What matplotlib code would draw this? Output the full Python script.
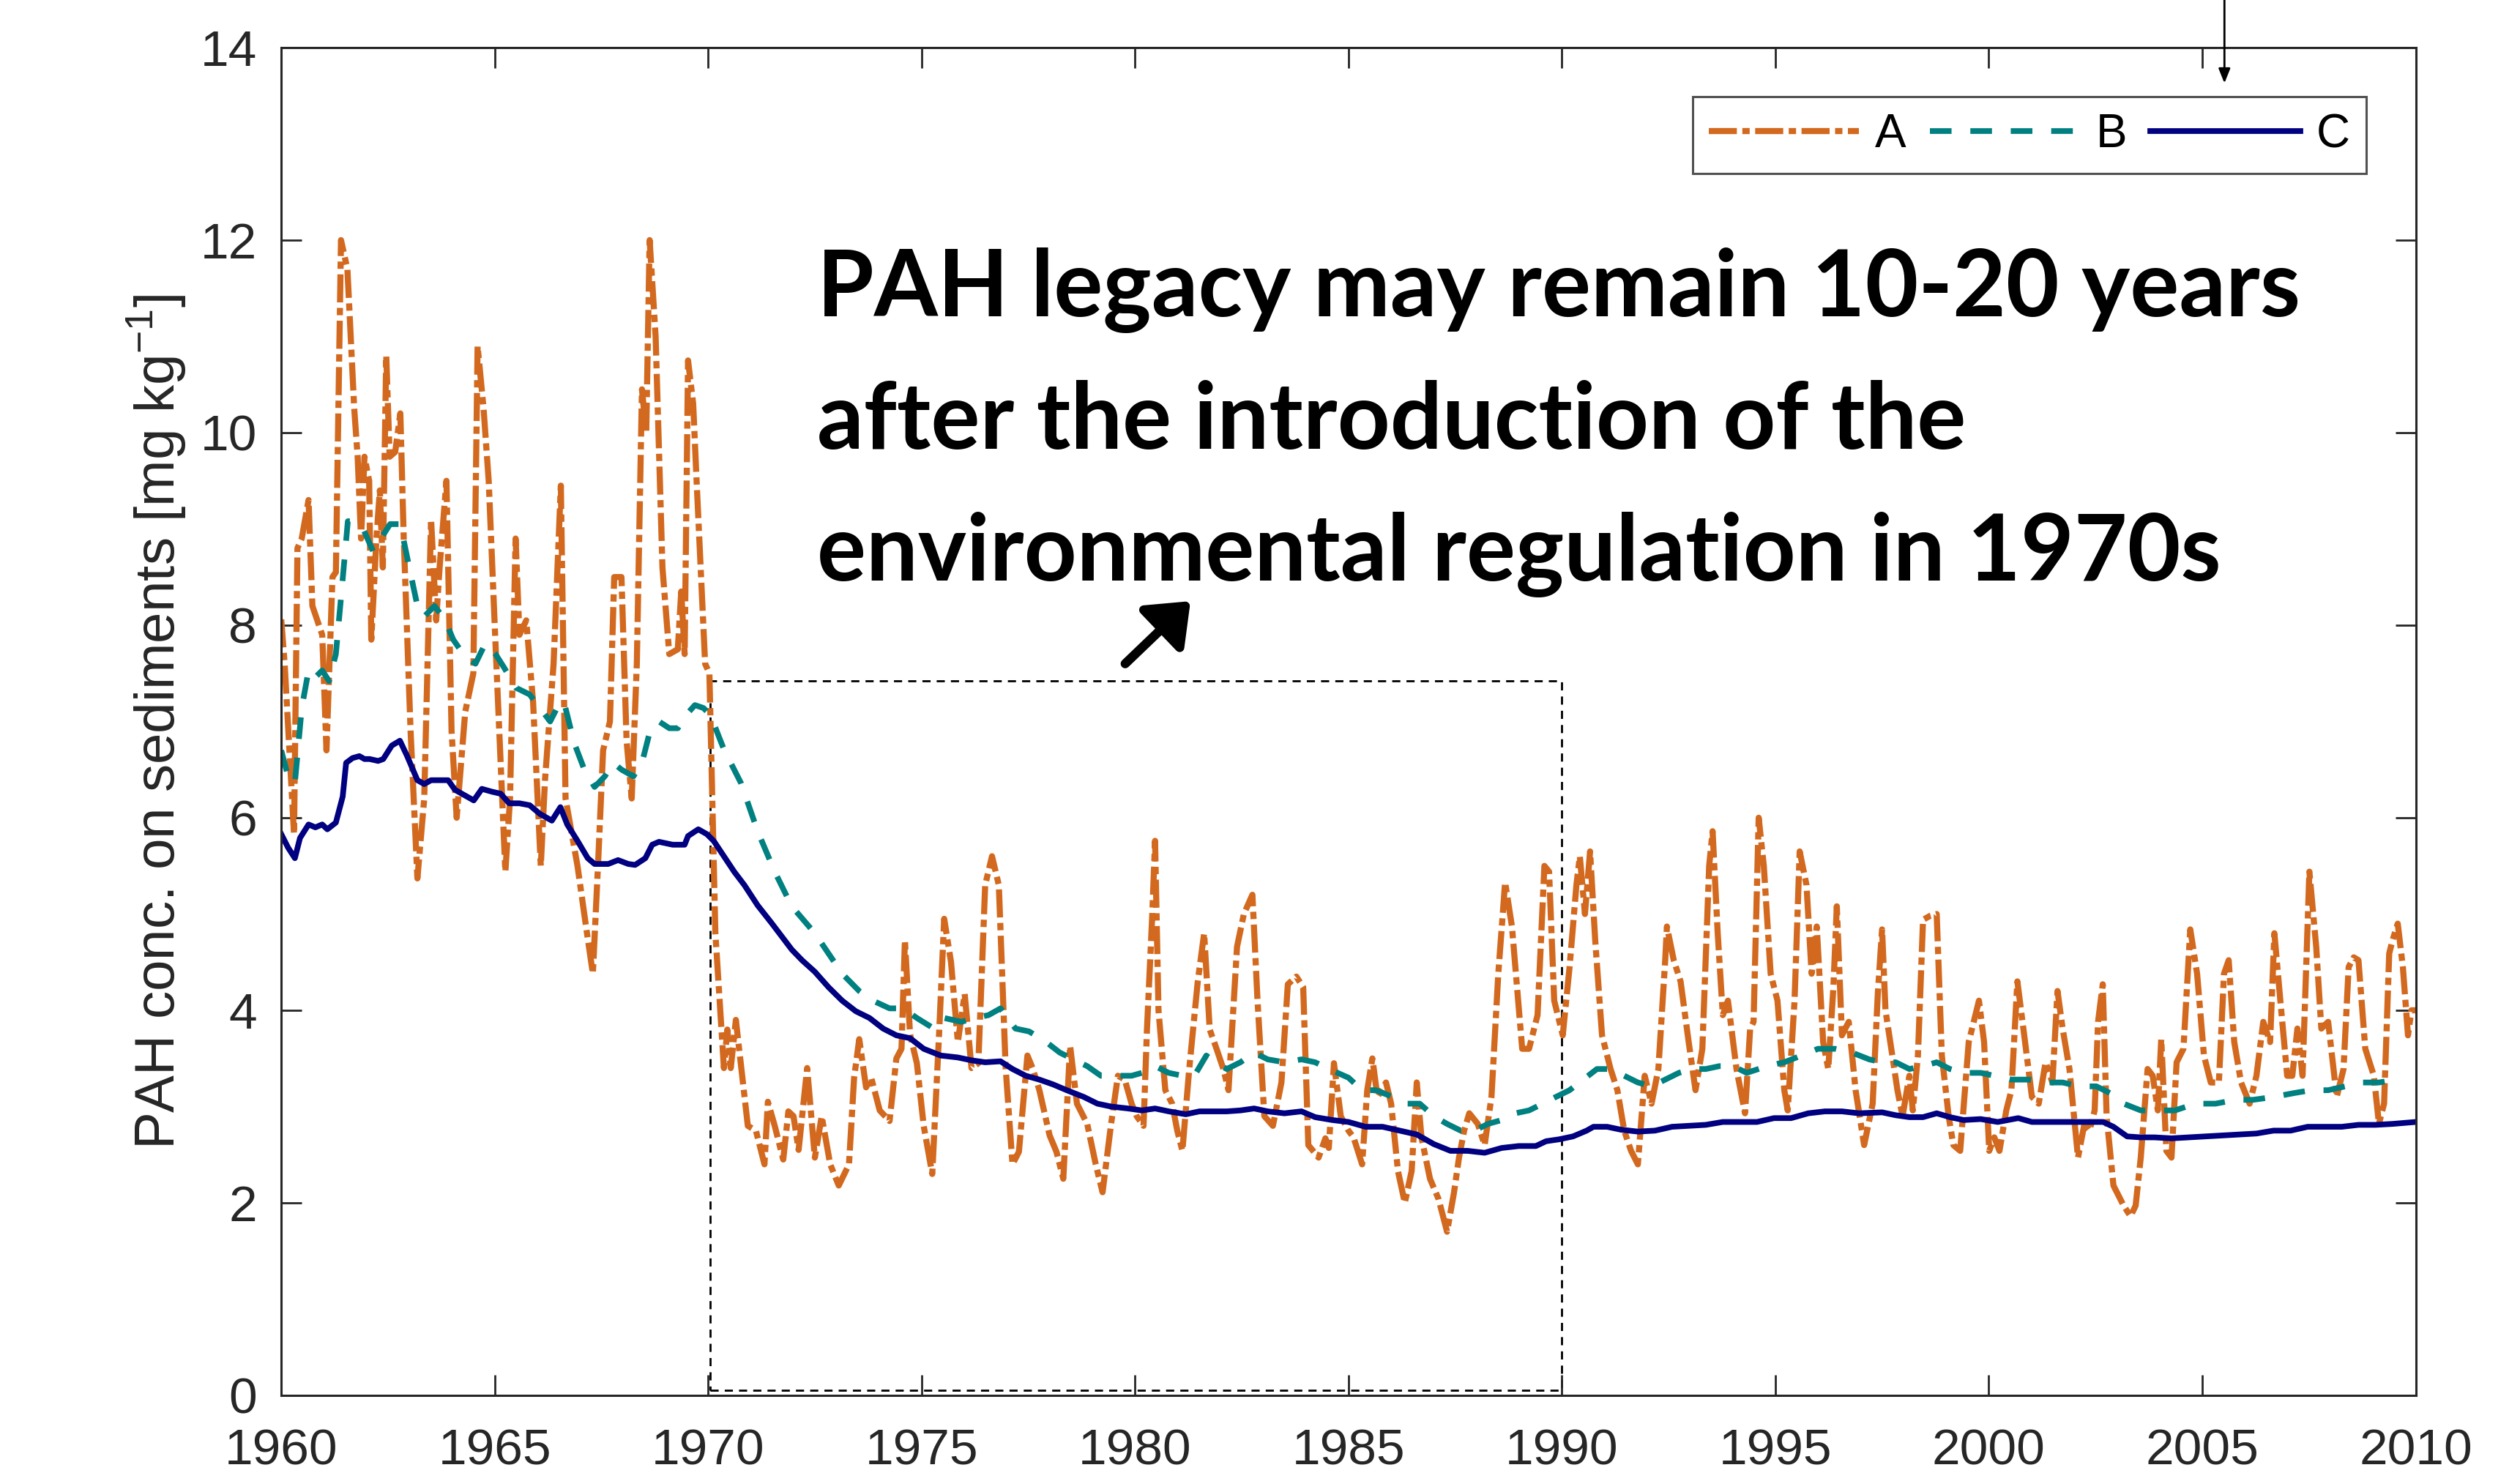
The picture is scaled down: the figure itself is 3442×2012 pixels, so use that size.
import matplotlib
matplotlib.use("Agg")
import matplotlib.pyplot as plt
from matplotlib.patches import Rectangle

# ---- data (decimal year, mg/kg) ----
a_t = [1960.0, 1960.08, 1960.3, 1960.38, 1960.48, 1960.64, 1960.73, 1960.96, 1961.06, 1961.2,
       1961.28, 1961.4, 1961.55, 1961.71, 1961.79, 1961.87, 1961.95, 1962.06, 1962.11, 1962.23,
       1962.31, 1962.38, 1962.46, 1962.54, 1962.67, 1962.79, 1962.87, 1963.03, 1963.19, 1963.35,
       1963.51, 1963.63, 1963.71, 1963.87, 1963.99, 1964.11, 1964.31, 1964.5, 1964.6, 1964.74,
       1964.86, 1965.02, 1965.25, 1965.36, 1965.49, 1965.58, 1965.74, 1965.9, 1966.08, 1966.18,
       1966.38, 1966.55, 1966.66, 1966.94, 1967.14, 1967.3, 1967.42, 1967.54, 1967.7, 1967.8,
       1967.97, 1968.09, 1968.21, 1968.33, 1968.45, 1968.55, 1968.63, 1968.77, 1968.93, 1969.09,
       1969.29, 1969.37, 1969.45, 1969.53, 1969.65, 1969.73, 1969.85, 1969.93, 1970.03, 1970.17,
       1970.37, 1970.45, 1970.53, 1970.65, 1970.93, 1971.12, 1971.32, 1971.4, 1971.56, 1971.76,
       1971.88, 1972.0, 1972.12, 1972.32, 1972.5, 1972.66, 1972.86, 1973.06, 1973.3, 1973.42,
       1973.54, 1973.7, 1973.82, 1974.02, 1974.25, 1974.41, 1974.53, 1974.61, 1974.73, 1974.89,
       1975.05, 1975.25, 1975.41, 1975.53, 1975.69, 1975.85, 1976.01, 1976.17, 1976.33, 1976.49,
       1976.65, 1976.81, 1976.97, 1977.13, 1977.28, 1977.48, 1977.6, 1977.76, 1978.0, 1978.16,
       1978.32, 1978.48, 1978.64, 1978.88, 1979.08, 1979.24, 1979.44, 1979.6, 1979.76, 1979.92,
       1980.04, 1980.2, 1980.28, 1980.4, 1980.47, 1980.55, 1980.71, 1980.87, 1980.99, 1981.11,
       1981.27, 1981.47, 1981.62, 1981.75, 1981.91, 1982.07, 1982.19, 1982.39, 1982.55, 1982.75,
       1982.87, 1983.03, 1983.23, 1983.43, 1983.58, 1983.78, 1983.94, 1984.06, 1984.3, 1984.46,
       1984.54, 1984.66, 1984.82, 1985.0, 1985.12, 1985.32, 1985.44, 1985.56, 1985.68, 1985.88,
       1986.0, 1986.16, 1986.32, 1986.48, 1986.6, 1986.71, 1986.91, 1987.11, 1987.31, 1987.47,
       1987.59, 1987.71, 1987.83, 1988.03, 1988.19, 1988.35, 1988.51, 1988.67, 1988.83, 1988.95,
       1989.07, 1989.23, 1989.43, 1989.59, 1989.7, 1989.82, 1990.02, 1990.18, 1990.34, 1990.42,
       1990.54, 1990.66, 1990.78, 1990.94, 1991.14, 1991.3, 1991.46, 1991.62, 1991.78, 1991.94,
       1992.1, 1992.26, 1992.42, 1992.46, 1992.62, 1992.78, 1992.97, 1993.13, 1993.29, 1993.45,
       1993.53, 1993.65, 1993.77, 1993.89, 1994.09, 1994.29, 1994.41, 1994.49, 1994.61, 1994.73,
       1994.89, 1995.05, 1995.21, 1995.29, 1995.45, 1995.57, 1995.73, 1995.85, 1995.97, 1996.12,
       1996.24, 1996.36, 1996.44, 1996.56, 1996.72, 1996.88, 1997.08, 1997.28, 1997.4, 1997.5,
       1997.58, 1997.74, 1997.86, 1997.98, 1998.14, 1998.22, 1998.34, 1998.46, 1998.62, 1998.78,
       1998.9, 1999.06, 1999.17, 1999.33, 1999.53, 1999.77, 1999.89, 2000.01, 2000.13, 2000.25,
       2000.41, 2000.53, 2000.67, 2000.85, 2001.01, 2001.17, 2001.33, 2001.49, 2001.61, 2001.73,
       2001.89, 2002.09, 2002.24, 2002.36, 2002.48, 2002.56, 2002.67, 2002.76, 2002.92, 2003.16,
       2003.32, 2003.44, 2003.56, 2003.72, 2003.84, 2003.96, 2004.04, 2004.16, 2004.28, 2004.4,
       2004.56, 2004.72, 2004.88, 2005.04, 2005.2, 2005.39, 2005.51, 2005.62, 2005.75, 2005.91,
       2006.11, 2006.27, 2006.43, 2006.59, 2006.69, 2006.83, 2006.99, 2007.11, 2007.23, 2007.35,
       2007.51, 2007.67, 2007.79, 2007.95, 2008.15, 2008.31, 2008.43, 2008.55, 2008.66, 2008.82,
       2009.02, 2009.14, 2009.26, 2009.38, 2009.46, 2009.58, 2009.7, 2009.82, 2009.9, 2010.0]
a_v = [8.06, 7.6, 5.83, 8.8, 8.9, 9.3, 8.2, 7.9, 6.7, 8.5,
       8.55, 12.0, 11.7, 10.25, 9.75, 8.9, 9.75, 9.5, 7.85, 8.9,
       9.4, 8.6, 10.8, 9.75, 9.8, 10.2, 8.9, 6.9, 5.37, 6.2,
       9.1, 8.05, 8.6, 9.5, 6.9, 6.0, 7.1, 7.5, 10.9, 10.25,
       9.5, 7.8, 5.44, 6.2, 8.9, 7.9, 8.05, 7.2, 5.5, 6.4,
       7.6, 9.45, 6.2, 5.5, 4.87, 4.38, 5.5, 6.7, 7.0, 8.5,
       8.5, 6.8, 6.2, 7.6, 10.45, 10.0, 12.0, 11.0, 8.6, 7.7,
       7.75, 8.35, 7.7, 10.75, 10.3, 9.5, 8.35, 7.6, 7.5, 4.8,
       3.4, 3.8, 3.4, 3.9, 2.8, 2.75, 2.4, 3.05, 2.8, 2.45,
       2.95, 2.9, 2.55, 3.4, 2.47, 2.9, 2.4, 2.18, 2.4, 3.3,
       3.7, 3.2, 3.3, 2.96, 2.85, 3.5, 3.6, 4.73, 3.75, 3.45,
       2.8, 2.3, 3.75, 4.95, 4.5, 3.67, 4.17, 3.4, 3.45, 5.3,
       5.6, 5.3, 3.4, 2.4, 2.53, 3.53, 3.4, 3.17, 2.7, 2.53,
       2.25, 3.63, 3.03, 2.82, 2.4, 2.11, 2.82, 3.32, 3.28, 3.03,
       2.9, 2.8, 3.8, 4.95, 5.76, 4.0, 3.17, 3.03, 2.75, 2.54,
       3.39, 4.3, 4.8, 3.8, 3.6, 3.39, 3.17, 4.66, 5.0, 5.2,
       4.1, 2.9, 2.8, 3.25, 4.27, 4.35, 4.24, 2.6, 2.47, 2.67,
       2.57, 3.45, 2.9, 2.75, 2.68, 2.4, 3.17, 3.5, 3.1, 3.25,
       3.03, 2.33, 2.0, 2.33, 3.25, 2.68, 2.25, 2.04, 1.7, 2.1,
       2.47, 2.75, 2.93, 2.82, 2.6, 3.1, 4.38, 5.33, 4.87, 4.24,
       3.6, 3.6, 3.95, 5.5, 5.44, 4.1, 3.74, 4.45, 5.3, 5.6,
       5.0, 5.65, 4.73, 3.74, 3.39, 3.17, 2.75, 2.54, 2.4, 3.32,
       3.03, 3.39, 4.52, 4.87, 4.52, 4.3, 3.67, 3.17, 3.6, 5.5,
       5.86, 4.8, 3.95, 4.1, 3.39, 2.93, 3.81, 3.88, 6.0, 5.5,
       4.38, 4.1, 3.17, 2.96, 4.1, 5.65, 5.3, 4.38, 4.87, 3.67,
       3.39, 4.24, 5.08, 3.74, 3.88, 3.17, 2.6, 3.03, 4.17, 4.84,
       4.0, 3.53, 3.17, 2.9, 3.32, 2.96, 3.53, 4.94, 4.98, 5.0,
       3.53, 2.9, 2.6, 2.54, 3.67, 4.1, 3.67, 2.54, 2.68, 2.54,
       2.96, 3.17, 4.3, 3.67, 3.1, 3.03, 3.46, 3.25, 4.2, 3.81,
       3.39, 2.47, 2.82, 2.75, 2.96, 3.88, 4.27, 2.9, 2.18, 1.97,
       1.86, 1.97, 2.47, 3.39, 3.32, 2.96, 3.7, 2.54, 2.47, 3.46,
       3.6, 4.84, 4.38, 3.53, 3.25, 3.25, 4.38, 4.52, 3.67, 3.25,
       3.03, 3.32, 3.88, 3.67, 4.8, 4.1, 3.32, 3.32, 3.81, 3.32,
       5.44, 4.66, 3.81, 3.88, 3.1, 3.39, 4.45, 4.55, 4.52, 3.6,
       3.32, 2.82, 3.03, 4.59, 4.73, 4.9, 4.45, 3.74, 4.0, 4.0]

b_t = [1960.0, 1960.16, 1960.32, 1960.48, 1960.64, 1960.8, 1960.96, 1961.12, 1961.28, 1961.44,
       1961.56, 1961.71, 1961.91, 1962.15, 1962.35, 1962.55, 1962.79, 1962.99, 1963.19, 1963.35,
       1963.59, 1963.83, 1964.03, 1964.31, 1964.55, 1964.78, 1965.02, 1965.22, 1965.5, 1965.82,
       1966.06, 1966.3, 1966.46, 1966.62, 1966.86, 1967.1, 1967.34, 1967.58, 1967.78, 1967.97,
       1968.25, 1968.45, 1968.61, 1968.85, 1969.09, 1969.29, 1969.49, 1969.69, 1969.89, 1970.05,
       1970.37, 1970.77, 1971.16, 1971.56, 1971.96, 1972.5, 1972.82, 1973.14, 1973.54, 1973.86,
       1974.25, 1974.57, 1974.89, 1975.29, 1975.53, 1975.93, 1976.25, 1976.57, 1976.85, 1977.2,
       1977.52, 1977.92, 1978.24, 1978.56, 1978.88, 1979.2, 1979.52, 1979.92, 1980.16, 1980.47,
       1980.79, 1981.11, 1981.43, 1981.67, 1981.87, 1982.15, 1982.47, 1982.79, 1983.11, 1983.5,
       1983.9, 1984.22, 1984.54, 1985.0, 1985.32, 1985.64, 1986.04, 1986.36, 1986.67, 1987.0,
       1987.31, 1987.63, 1987.95, 1988.27, 1988.59, 1988.91, 1989.23, 1989.55, 1989.86, 1990.18,
       1990.5, 1990.82, 1991.14, 1991.46, 1991.78, 1992.1, 1992.42, 1992.74, 1993.05, 1993.37,
       1993.69, 1994.01, 1994.33, 1994.81, 1995.21, 1995.61, 1996.0, 1996.4, 1996.8, 1997.2,
       1997.5, 1997.82, 1998.14, 1998.46, 1998.78, 1999.09, 1999.41, 1999.81, 2000.13, 2000.53,
       2000.93, 2001.33, 2001.73, 2002.13, 2002.52, 2002.84, 2003.16, 2003.56, 2003.96, 2004.36,
       2004.84, 2005.31, 2005.79, 2006.19, 2006.67, 2007.15, 2007.55, 2007.95, 2008.35, 2008.74,
       2009.14, 2009.54]
b_v = [6.7, 6.43, 6.36, 7.14, 7.53, 7.46, 7.53, 7.42, 7.7, 8.48,
       9.08, 9.08, 9.01, 8.77, 8.91, 9.05, 9.05, 8.62, 8.2, 8.09,
       8.2, 8.06, 7.85, 7.67, 7.6, 7.81, 7.7, 7.56, 7.35, 7.28,
       7.14, 7.0, 7.14, 7.21, 6.78, 6.5, 6.32, 6.43, 6.57, 6.5,
       6.43, 6.57, 6.85, 7.0, 6.93, 6.93, 7.07, 7.17, 7.14, 7.07,
       6.71, 6.36, 5.86, 5.44, 5.08, 4.8, 4.59, 4.38, 4.2, 4.1,
       4.02, 4.02, 3.92, 3.81, 3.92, 3.88, 3.92, 3.95, 4.02, 3.81,
       3.78, 3.67, 3.56, 3.49, 3.42, 3.32, 3.32, 3.32, 3.35, 3.42,
       3.35, 3.32, 3.35, 3.53, 3.46, 3.39, 3.46, 3.56, 3.49, 3.46,
       3.49, 3.46, 3.39, 3.3, 3.17, 3.17, 3.1, 3.03, 3.03, 2.9,
       2.82, 2.75, 2.75, 2.82, 2.86, 2.93, 2.96, 3.03, 3.1, 3.17,
       3.28, 3.39, 3.39, 3.32, 3.25, 3.21, 3.28, 3.35, 3.39, 3.39,
       3.42, 3.42, 3.35, 3.42, 3.46, 3.53, 3.6, 3.6, 3.56, 3.49,
       3.46, 3.46, 3.39, 3.42, 3.46, 3.39, 3.35, 3.35, 3.32, 3.28,
       3.28, 3.25, 3.25, 3.21, 3.21, 3.14, 3.03, 2.96, 2.96, 2.96,
       3.03, 3.03, 3.07, 3.07, 3.1, 3.14, 3.17, 3.17, 3.21, 3.25,
       3.25, 3.28]

c_t = [1960.0, 1960.16, 1960.32, 1960.44, 1960.64, 1960.8, 1960.96, 1961.08, 1961.28, 1961.44,
       1961.52, 1961.67, 1961.83, 1961.95, 1962.07, 1962.27, 1962.39, 1962.59, 1962.78, 1962.95,
       1963.19, 1963.35, 1963.51, 1963.67, 1963.91, 1964.07, 1964.31, 1964.51, 1964.7, 1964.94,
       1965.14, 1965.34, 1965.58, 1965.82, 1966.06, 1966.34, 1966.54, 1966.7, 1966.94, 1967.18,
       1967.34, 1967.66, 1967.89, 1968.13, 1968.29, 1968.53, 1968.69, 1968.85, 1969.17, 1969.45,
       1969.53, 1969.77, 1969.97, 1970.13, 1970.37, 1970.61, 1970.85, 1971.16, 1971.48, 1971.72,
       1971.96, 1972.2, 1972.5, 1972.82, 1973.14, 1973.46, 1973.78, 1974.1, 1974.41, 1974.73,
       1975.05, 1975.45, 1975.85, 1976.17, 1976.49, 1976.85, 1977.13, 1977.44, 1977.76, 1978.08,
       1978.4, 1978.8, 1979.12, 1979.44, 1979.84, 1980.16, 1980.47, 1980.79, 1981.19, 1981.51,
       1981.83, 1982.15, 1982.47, 1982.79, 1983.11, 1983.5, 1983.9, 1984.22, 1984.62, 1985.0,
       1985.4, 1985.8, 1986.2, 1986.6, 1987.0, 1987.39, 1987.79, 1988.19, 1988.59, 1988.99,
       1989.39, 1989.63, 1989.94, 1990.26, 1990.58, 1990.74, 1991.06, 1991.38, 1991.78, 1992.18,
       1992.58, 1992.97, 1993.37, 1993.77, 1994.17, 1994.57, 1994.97, 1995.37, 1995.77, 1996.16,
       1996.56, 1996.96, 1997.5, 1997.82, 1998.14, 1998.46, 1998.78, 1999.09, 1999.41, 1999.81,
       2000.21, 2000.69, 2001.01, 2001.49, 2001.89, 2002.28, 2002.68, 2002.92, 2003.24, 2003.56,
       2003.88, 2004.28, 2004.68, 2005.08, 2005.47, 2005.87, 2006.27, 2006.67, 2007.07, 2007.47,
       2007.87, 2008.27, 2008.66, 2009.06, 2009.46, 2010.0]
c_v = [5.83, 5.69, 5.58, 5.79, 5.93, 5.9, 5.93, 5.88, 5.95, 6.22,
       6.57, 6.62, 6.64, 6.61, 6.61, 6.59, 6.61, 6.75, 6.8, 6.64,
       6.39, 6.35, 6.39, 6.39, 6.39, 6.29, 6.23, 6.18, 6.3, 6.27,
       6.25, 6.15, 6.15, 6.13, 6.04, 5.97, 6.11, 5.93, 5.76, 5.58,
       5.52, 5.52, 5.56, 5.52, 5.51, 5.58, 5.72, 5.75, 5.72, 5.72,
       5.81, 5.88, 5.83, 5.76, 5.6, 5.44, 5.3, 5.09, 4.91, 4.77,
       4.63, 4.52, 4.4, 4.24, 4.1, 3.99, 3.92, 3.81, 3.74, 3.71,
       3.6, 3.53, 3.51, 3.48, 3.46, 3.47, 3.39, 3.32, 3.28, 3.23,
       3.17, 3.1, 3.03, 3.0, 2.98, 2.96, 2.98, 2.95, 2.92, 2.95,
       2.95, 2.95, 2.96, 2.98, 2.95, 2.93, 2.95, 2.89, 2.86, 2.84,
       2.79, 2.79, 2.75, 2.71, 2.61, 2.54, 2.54, 2.52, 2.57, 2.59,
       2.59, 2.64, 2.66, 2.69, 2.75, 2.79, 2.79, 2.76, 2.74, 2.75,
       2.79, 2.8, 2.81, 2.84, 2.84, 2.84, 2.88, 2.88, 2.93, 2.95,
       2.95, 2.93, 2.94, 2.91, 2.89, 2.89, 2.93, 2.89, 2.86, 2.87,
       2.84, 2.88, 2.84, 2.84, 2.84, 2.84, 2.84, 2.79, 2.69, 2.68,
       2.68, 2.67, 2.68, 2.69, 2.7, 2.71, 2.72, 2.75, 2.75, 2.79,
       2.79, 2.79, 2.81, 2.81, 2.82, 2.84]

series_names = ["A", "B", "C"]
x_ticks = [1960, 1965, 1970, 1975, 1980, 1985, 1990, 1995, 2000, 2005, 2010]
y_ticks = [0, 2, 4, 6, 8, 10, 12, 14]
note_lines = ["PAH legacy may remain 10-20 years",
              "after the introduction of the",
              "environmental regulation in 1970s"]

orange = "#D2691E"
teal = "#008080"
navy = "#000080"
axcol = "#262626"

plt.rcParams["font.family"] = ["Liberation Sans", "DejaVu Sans"]

fig = plt.figure(figsize=(17.21, 10.06), dpi=200)
ax = fig.add_axes([0.1116, 0.0527, 0.847, 0.915])

ax.plot(a_t, a_v, color=orange, lw=3.0, dashes=(4.6, 0.9, 1.2, 0.9), label=series_names[0])
ax.plot(b_t, b_v, color=teal, lw=2.8, dashes=(3.8, 3.3), label=series_names[1])
ax.plot(c_t, c_v, color=navy, lw=2.8, label=series_names[2])

ax.set_xlim(1960, 2010)
ax.set_ylim(0, 14)
ax.set_xticks(x_ticks)
ax.set_yticks(y_ticks)
ax.tick_params(direction="in", length=10, width=1, top=True, right=True,
               labelsize=25, colors=axcol, pad=12)
ax.tick_params(axis="x", pad=16)
for s in ax.spines.values():
    s.set_color(axcol)
    s.set_linewidth(1.1)

ax.set_ylabel("PAH conc. on sediments [mg kg$^{\\mathregular{-1}}$]", fontsize=27.5,
              color=axcol, labelpad=6)

# dashed box over the 1970-1990 period
ax.add_patch(Rectangle((1970.05, 0.05), 19.95, 7.37, fill=False, ec="black",
                       lw=1.0, ls=(0, (4, 3)), zorder=1))

# big annotation text
for i, line in enumerate(note_lines):
    ax.text(1972.55, 11.21 - 1.375 * i, line, family="Lato", fontweight="bold",
            fontsize=45.2, color="black", va="baseline", ha="left")

ax.annotate("", xy=(1981.3, 8.25), xytext=(1979.77, 7.6),
            arrowprops=dict(arrowstyle="-|>,head_length=0.4,head_width=0.32",
                            lw=4.5, color="black", mutation_scale=40, shrinkA=0, shrinkB=0))

# small arrow coming from above the axes
ax.annotate("", xy=(2005.52, 13.63), xytext=(2005.52, 14.55),
            arrowprops=dict(arrowstyle="-|>,head_length=0.5,head_width=0.2",
                            lw=1.0, color="black", mutation_scale=12, shrinkA=0, shrinkB=0),
            annotation_clip=False)

leg = ax.legend(loc="upper right", ncol=3, fontsize=23, frameon=True, fancybox=False,
                edgecolor=axcol, handlelength=3.2, handletextpad=0.35, columnspacing=0.5,
                borderaxespad=1.05, borderpad=0.35)
leg.get_frame().set_linewidth(1.1)

fig.savefig("out.png", dpi=200)
